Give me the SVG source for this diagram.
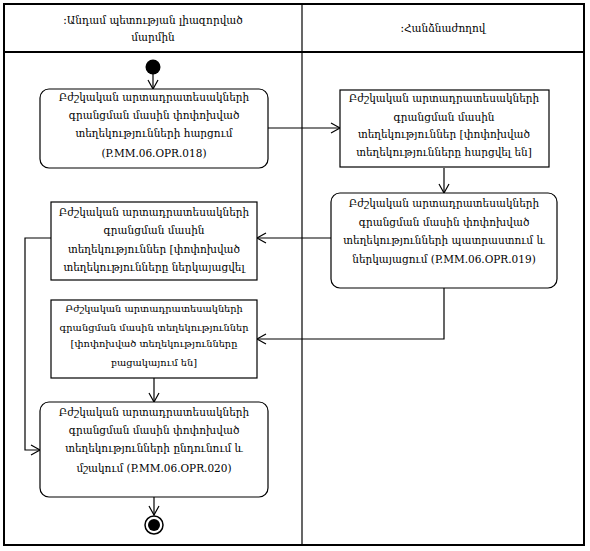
<svg xmlns="http://www.w3.org/2000/svg" width="590" height="551" viewBox="0 0 590 551">
<style>
.frame{fill:none;stroke:#000;stroke-width:2}
.box{fill:#fff;stroke:#000;stroke-width:1.2}
.t{font-family:"DejaVu Serif","Liberation Serif",serif;font-size:10.5px;fill:#000;text-anchor:middle}
.s{font-size:9.8px}
.c{fill:none;stroke:#000;stroke-width:1.2}
</style>
<defs>
<marker id="a" markerWidth="12" markerHeight="12" refX="10" refY="6" orient="auto" markerUnits="userSpaceOnUse">
<polyline points="1,1 10,6 1,11" fill="none" stroke="#000" stroke-width="1.2"/>
</marker>
</defs>
<rect width="590" height="551" fill="#fff"/>
<g id="lanes">
<rect class="frame" x="4" y="4" width="580" height="541"/>
<line class="frame" x1="4" y1="52" x2="584" y2="52"/>
<line x1="302" y1="4" x2="302" y2="545" stroke="#000" stroke-width="1.2"/>
<text class="t" x="153" y="24">:Անդամ պետության լիազորված</text>
<text class="t" x="153" y="41">մարմին</text>
<text class="t" x="443" y="32">:Հանձնաժողով</text>
</g>
<g id="connectors">
<line class="c" x1="153" y1="74" x2="153" y2="89" marker-end="url(#a)"/>
<line class="c" x1="268" y1="128" x2="340" y2="128" marker-end="url(#a)"/>
<line class="c" x1="444" y1="168" x2="444" y2="193" marker-end="url(#a)"/>
<line class="c" x1="331" y1="238" x2="257" y2="238" marker-end="url(#a)"/>
<polyline class="c" points="444,288 444,339 257,339" marker-end="url(#a)"/>
<line class="c" x1="154" y1="378" x2="154" y2="402" marker-end="url(#a)"/>
<polyline class="c" points="51,238 25,238 25,450 40,450" marker-end="url(#a)"/>
<line class="c" x1="154" y1="497" x2="154" y2="515" marker-end="url(#a)"/>
</g>
<g id="start"><circle cx="153" cy="67" r="7.5" fill="#000"/></g>
<g id="n1">
<rect class="box" x="40" y="89" width="228" height="79" rx="9"/>
<text class="t" x="154" y="101">Բժշկական արտադրատեսակների</text>
<text class="t" x="154" y="119">գրանցման մասին փոփոխված</text>
<text class="t" x="154" y="137">տեղեկությունների հարցում</text>
<text class="t" x="154" y="157">(P.MM.06.OPR.018)</text>
</g>
<g id="n2">
<rect class="box" x="340" y="90" width="209" height="77"/>
<text class="t" x="444" y="102">Բժշկական արտադրատեսակների</text>
<text class="t" x="444" y="121">գրանցման մասին</text>
<text class="t" x="444" y="138">տեղեկություններ [փոփոխված</text>
<text class="t" x="444" y="156">տեղեկությունները հարցվել են]</text>
</g>
<g id="n4">
<rect class="box" x="331" y="193" width="226" height="95" rx="9"/>
<text class="t" x="444" y="207">Բժշկական արտադրատեսակների</text>
<text class="t" x="444" y="226">գրանցման մասին փոփոխված</text>
<text class="t" x="444" y="244">տեղեկությունների պատրաստում և</text>
<text class="t" x="444" y="263">ներկայացում (P.MM.06.OPR.019)</text>
</g>
<g id="n3">
<rect class="box" x="51" y="202" width="206" height="78"/>
<text class="t" x="154" y="216">Բժշկական արտադրատեսակների</text>
<text class="t" x="154" y="234">գրանցման մասին</text>
<text class="t" x="154" y="253">տեղեկություններ [փոփոխված</text>
<text class="t" x="154" y="271">տեղեկությունները ներկայացվել</text>
</g>
<g id="n5">
<rect class="box" x="51" y="300" width="206" height="78"/>
<text class="t s" x="154" y="312">Բժշկական արտադրատեսակների</text>
<text class="t s" x="154" y="331">գրանցման մասին տեղեկություններ</text>
<text class="t s" x="154" y="347">[փոփոխված տեղեկությունները</text>
<text class="t s" x="154" y="366">բացակայում են]</text>
</g>
<g id="n6">
<rect class="box" x="40" y="402" width="228" height="95" rx="9"/>
<text class="t" x="154" y="416">Բժշկական արտադրատեսակների</text>
<text class="t" x="154" y="434">գրանցման մասին փոփոխված</text>
<text class="t" x="154" y="452">տեղեկությունների ընդունում և</text>
<text class="t" x="154" y="472">մշակում (P.MM.06.OPR.020)</text>
</g>
<g id="end">
<circle cx="154" cy="525" r="9" fill="#fff" stroke="#000" stroke-width="1.5"/>
<circle cx="154" cy="525" r="6" fill="#000"/>
</g>
</svg>
